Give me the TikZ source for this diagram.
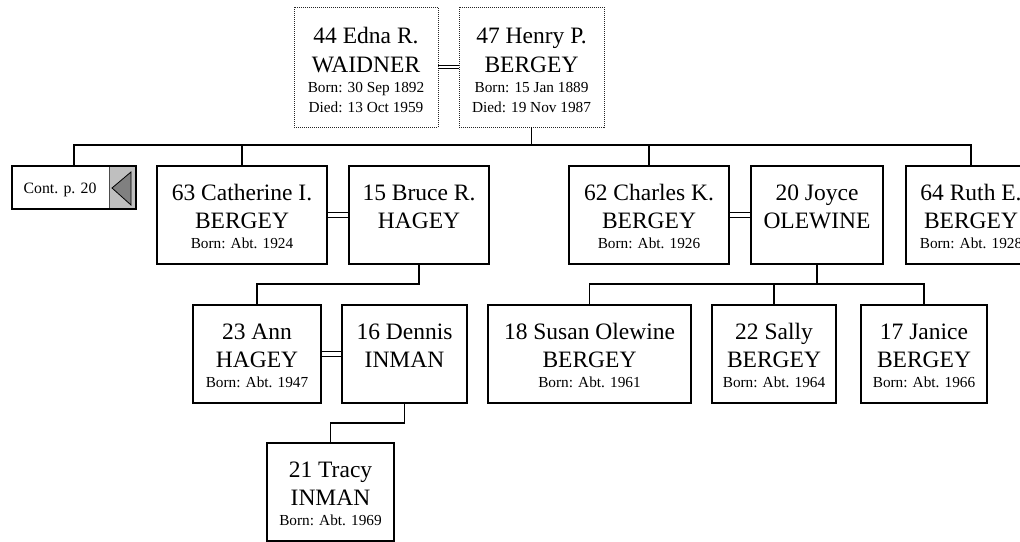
\documentclass[tikz,border=0pt]{standalone}
\usepackage{fontspec}
\setmainfont{Liberation Serif}
\usetikzlibrary{calc}
\newcommand\nmfont{\fontsize{23.5}{27}\selectfont}
\newcommand\dtfont{\fontsize{15.3}{18}\selectfont}
\tikzset{
  personbox/.style={draw=black, line width=1.8pt, rectangle, inner sep=0pt, outer sep=0pt, anchor=north west},
  parentbox/.style={draw=black!85, line width=0.9pt, dash pattern=on 1pt off 1pt, rectangle, inner sep=0pt, outer sep=0pt, anchor=north west},
  nametext/.style={font=\nmfont, anchor=base, inner sep=0pt},
  datetext/.style={font=\dtfont, anchor=base, inner sep=0pt},
  link/.style={draw=black, line width=1.6pt},
  marriage/.style={draw=black, line width=1.3pt},
  pmarriage/.style={draw=black, line width=0.8pt},
}
\newcommand\kid[6]{%
  \node[personbox, minimum width={#3-#2}, minimum height=98] (#1) at (#2,#4) {};
  \node[nametext] (#1-n) at ($(#1.north)+(0,34)$) {#5};
  \node[nametext] (#1-s) at ($(#1.north)+(0,62)$) {#6};
}
\newcommand\born[2]{\node[datetext] (#1-b) at ($(#1.north)+(0,82)$) {#2};}
\newcommand\parent[7]{%
  \node[parentbox, minimum width={#3-#2}, minimum height=120] (#1) at (#2,#4) {};
  \node[nametext] (#1-n) at ($(#1.north)+(0,36)$) {#5};
  \node[nametext] (#1-s) at ($(#1.north)+(0,65)$) {#6};
  \node[datetext] (#1-b) at ($(#1.north)+(0,85)$) {#7};
}
\newcommand\died[2]{\node[datetext] (#1-d) at ($(#1.north)+(0,105)$) {#2};}
\begin{document}
\begin{tikzpicture}[x=1pt,y=-1pt]
\clip (0,0) rectangle (1020,541);
\fill[white] (0,0) rectangle (1020,541);

% parents
\parent{edna}{294}{438}{7}{44 Edna R.}{WAIDNER}{Born: 30 Sep 1892}
\died{edna}{Died: 13 Oct 1959}
\parent{henry}{459}{604}{7}{47 Henry P.}{BERGEY}{Born: 15 Jan 1889}
\died{henry}{Died: 19 Nov 1987}
\draw[pmarriage] ($(edna.east)+(0,-1.8)$) -- ($(henry.west)+(0,-1.8)$);
\draw[pmarriage] ($(edna.east)+(0,1.8)$) -- ($(henry.west)+(0,1.8)$);

% continuation box
\node[fill=black!25, draw=black!70, line width=0.8pt, inner sep=0pt, outer sep=0pt, anchor=north west, minimum width=27, minimum height=43] (contgray) at (109,166) {};
\filldraw[fill=black!50, draw=black, line width=0.8pt] (112,188) -- (131,172) -- (131,205) -- cycle;
\node[personbox, minimum width=124, minimum height=43] (cont) at (12,166) {};
\node[datetext, font=\fontsize{15.8}{18}\selectfont] (cont-t) at (60,193) {Cont. p. 20};

% row 2
\kid{cath}{157}{327}{166}{63 Catherine I.}{BERGEY}
\born{cath}{Born: Abt. 1924}
\kid{bruce}{349}{489}{166}{15 Bruce R.}{HAGEY}
\kid{charles}{569}{729}{166}{62 Charles K.}{BERGEY}
\born{charles}{Born: Abt. 1926}
\kid{joyce}{751}{883}{166}{20 Joyce}{OLEWINE}
\kid{ruth}{906}{1036}{166}{64 Ruth E.}{BERGEY}
\born{ruth}{Born: Abt. 1928}

% row 3
\kid{ann}{193}{321}{305}{23 Ann}{HAGEY}
\born{ann}{Born: Abt. 1947}
\kid{dennis}{342}{467}{305}{16 Dennis}{INMAN}
\kid{susan}{488}{691}{305}{18 Susan Olewine}{BERGEY}
\born{susan}{Born: Abt. 1961}
\kid{sally}{712}{836}{305}{22 Sally}{BERGEY}
\born{sally}{Born: Abt. 1964}
\kid{janice}{861}{987}{305}{17 Janice}{BERGEY}
\born{janice}{Born: Abt. 1966}

% row 4
\kid{tracy}{267}{394}{443}{21 Tracy}{INMAN}
\born{tracy}{Born: Abt. 1969}

% marriages
\draw[marriage] ($(cath.east)+(0,-2.8)$) -- ($(bruce.west)+(0,-2.8)$);
\draw[marriage] ($(cath.east)+(0,2.8)$) -- ($(bruce.west)+(0,2.8)$);
\draw[marriage] ($(charles.east)+(0,-2.8)$) -- ($(joyce.west)+(0,-2.8)$);
\draw[marriage] ($(charles.east)+(0,2.8)$) -- ($(joyce.west)+(0,2.8)$);
\draw[marriage] ($(ann.east)+(0,-2.6)$) -- ($(dennis.west)+(0,-2.6)$);
\draw[marriage] ($(ann.east)+(0,2.6)$) -- ($(dennis.west)+(0,2.6)$);

% descent lines
\path (henry.south) ++(0,18) coordinate (hbar);
\draw[link] (henry.south) -- (hbar);
\draw[link] (cont.north) |- (hbar) -| (ruth.north);
\draw[link] (cath.north) -- (cath.north |- hbar);
\draw[link] (charles.north) -- (charles.north |- hbar);

\draw[link] (bruce.south) -- ++(0,20) -| (ann.north);

\path (joyce.south) ++(0,20) coordinate (jbar);
\draw[link] (joyce.south) -- (jbar);
\draw[link] (susan.north) |- (jbar) -| (janice.north);
\draw[link] (sally.north) -- (sally.north |- jbar);

\draw[link] (dennis.south) -- ++(0,20) -| (tracy.north);
\end{tikzpicture}
\end{document}
